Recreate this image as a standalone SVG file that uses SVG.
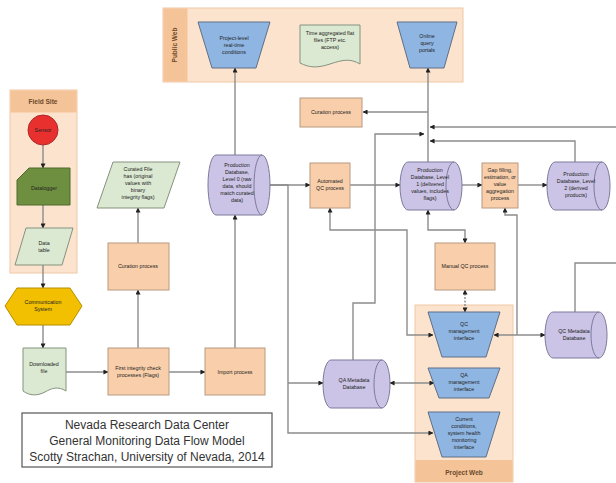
<svg xmlns="http://www.w3.org/2000/svg" width="616" height="483" viewBox="0 0 616 483">
<defs>
<style>
.lane{fill:#fce3cd;stroke:#f0c8a4;stroke-width:1}
.head{fill:#f5c398;stroke:none}
.proc{fill:#f9cfab;stroke:#b79a80;stroke-width:1}
.db{fill:#cbc4e6;stroke:#7d7a9a;stroke-width:1}
.dbl{fill:none;stroke:#7d7a9a;stroke-width:1}
.trap{fill:#8fb6e3;stroke:#5f6f86;stroke-width:1}
.grn{fill:#dbe9d2;stroke:#85927f;stroke-width:1}
.c{fill:none;stroke:#8c8c8c;stroke-width:1.4}
.t{font-family:"Liberation Sans",Arial,sans-serif;font-size:5.3px;fill:#222;text-anchor:middle}
.lbl{font-family:"Liberation Sans",Arial,sans-serif;font-size:6.5px;fill:#6b4a2a;text-anchor:middle;font-weight:bold}
.title{font-family:"Liberation Sans",Arial,sans-serif;font-size:12px;fill:#333;text-anchor:middle}
</style>
<marker id="a" viewBox="0 0 6 6" refX="5.5" refY="3" markerWidth="5" markerHeight="5" markerUnits="userSpaceOnUse" orient="auto-start-reverse">
<path d="M0,0 L6,3 L0,6 Z" fill="#222"/>
</marker>
</defs>

<!-- swimlanes -->
<g id="lane-public-web">
<rect class="lane" x="163" y="8" width="300" height="74"/>
<rect class="head" x="163.5" y="8.5" width="24" height="73"/>
<text class="lbl" transform="translate(177 45) rotate(-90)">Public Web</text>
</g>
<g id="lane-field-site">
<rect class="lane" x="10" y="90" width="67" height="183"/>
<rect class="head" x="10.5" y="90.5" width="66" height="22"/>
<text class="lbl" x="43" y="104">Field Site</text>
</g>
<g id="lane-project-web">
<rect class="lane" x="415" y="305" width="98" height="177"/>
<rect class="head" x="415.5" y="460" width="97" height="22"/>
<text class="lbl" x="464" y="475">Project Web</text>
</g>

<!-- connectors -->
<g id="connectors">
<path class="c" d="M43 145 V168" marker-end="url(#a)"/>
<path class="c" d="M43 205 V228" marker-end="url(#a)"/>
<path class="c" d="M43 265 V288" marker-end="url(#a)"/>
<path class="c" d="M43 325 V348" marker-end="url(#a)"/>
<path class="c" d="M66 372 H108" marker-end="url(#a)"/>
<path class="c" d="M169 372 H205" marker-end="url(#a)"/>
<path class="c" d="M138 348 V290" marker-end="url(#a)"/>
<path class="c" d="M138 243 V208" marker-end="url(#a)"/>
<path class="c" d="M235 348 V215" marker-end="url(#a)"/>
<path class="c" d="M235 155 V68" marker-end="url(#a)"/>
<path class="c" d="M270 185 H310" marker-end="url(#a)"/>
<path class="c" d="M270 185 H288 V433 H433" marker-end="url(#a)"/>
<path class="c" d="M288 383 H323" marker-end="url(#a)"/>
<path class="c" d="M350 185 H400" marker-end="url(#a)"/>
<path class="c" d="M353 360 V303 H375 V134 H424" marker-end="url(#a)"/>
<path class="c" d="M428 162 V68" marker-end="url(#a)"/>
<path class="c" d="M428 112 H363" marker-end="url(#a)"/>
<path class="c" d="M616 127 H430" marker-end="url(#a)"/>
<path class="c" d="M575 162 V141 H430" marker-end="url(#a)"/>
<path class="c" d="M462 185 H482" marker-end="url(#a)"/>
<path class="c" d="M518 185 H547" marker-end="url(#a)"/>
<path class="c" d="M428 210 V230 H465 V243" marker-start="url(#a)" marker-end="url(#a)"/>
<path class="c" d="M465 290 V312" stroke-dasharray="2 1.5" marker-start="url(#a)" marker-end="url(#a)"/>
<path class="c" d="M330 208 V230 H407 V335 H433" marker-start="url(#a)" marker-end="url(#a)"/>
<path class="c" d="M494 335 H545" marker-start="url(#a)" marker-end="url(#a)"/>
<path class="c" d="M505 208 V215 H517 V335" marker-start="url(#a)"/>
<path class="c" d="M575 312 V263 H616"/>
<path class="c" d="M390 383 H434" marker-start="url(#a)" marker-end="url(#a)"/>
</g>

<!-- Public web nodes -->
<g id="project-level-realtime">
<polygon class="trap" points="198,22 270,22 256,68 212,68"/>
<text class="t" x="234" y="40">Project-level</text>
<text class="t" x="234" y="47">real-time</text>
<text class="t" x="234" y="54">conditions</text>
</g>
<g id="time-aggregated-files">
<path class="grn" d="M300 25 H360 V64 C350 58 342 60 330 64 C318 68 310 68 300 63 Z"/>
<text class="t" x="330" y="35">Time aggregated flat</text>
<text class="t" x="330" y="42">files (FTP etc.</text>
<text class="t" x="330" y="49">access)</text>
</g>
<g id="online-query-portals">
<polygon class="trap" points="397,22 457,22 444,68 410,68"/>
<text class="t" x="427" y="38">Online</text>
<text class="t" x="427" y="45">query</text>
<text class="t" x="427" y="52">portals</text>
</g>
<g id="curation-process-top">
<rect class="proc" x="300" y="98" width="62" height="29"/>
<text class="t" x="331" y="114">Curation process</text>
</g>

<!-- Field site nodes -->
<g id="sensor">
<circle cx="43" cy="130" r="15" fill="#e8302e" stroke="#a82a2a"/>
<text class="t" x="43" y="132">Sensor</text>
</g>
<g id="datalogger">
<polygon points="17,180 29,168 70,168 70,205 17,205" fill="#6e8f3f" stroke="#4d6a2c"/>
<text class="t" x="44" y="190" fill="#111">Datalogger</text>
</g>
<g id="data-table">
<polygon class="grn" points="26,228 73,228 62,265 15,265"/>
<text class="t" x="44" y="245">Data</text>
<text class="t" x="44" y="252">table</text>
</g>
<g id="communication-system">
<polygon points="5,306 17,288 70,288 82,306 70,325 17,325" fill="#f2c000" stroke="#b58e00"/>
<text class="t" x="43" y="304">Communication</text>
<text class="t" x="43" y="311">System</text>
</g>
<g id="downloaded-file">
<path class="grn" d="M23 348 H66 V391 C58 386 52 388 45 392 C37 396 30 396 23 391 Z"/>
<text class="t" x="44" y="366">Downloaded</text>
<text class="t" x="44" y="373">file</text>
</g>

<!-- Left process column -->
<g id="curated-file">
<polygon class="grn" points="113,162 180,162 164,208 97,208"/>
<text class="t" x="138" y="171">Curated File</text>
<text class="t" x="138" y="178">has (original</text>
<text class="t" x="138" y="185">values with</text>
<text class="t" x="138" y="192">binary</text>
<text class="t" x="138" y="199">integrity flags)</text>
</g>
<g id="curation-process-left">
<rect class="proc" x="108" y="243" width="61" height="47"/>
<text class="t" x="138" y="268">Curation process</text>
</g>
<g id="first-integrity-check">
<rect class="proc" x="108" y="348" width="61" height="47"/>
<text class="t" x="138" y="370">First integrity check</text>
<text class="t" x="138" y="377">processes (Flags)</text>
</g>
<g id="import-process">
<rect class="proc" x="205" y="348" width="60" height="47"/>
<text class="t" x="235" y="374">Import process</text>
</g>

<!-- Databases -->
<g id="production-db-level0">
<path class="db" d="M216 155 H262 A8 30 0 0 1 262 215 H216 A8 30 0 0 1 216 155 Z"/>
<path class="dbl" d="M262 155 A8 30 0 0 0 262 215"/>
<text class="t" x="237" y="167">Production</text>
<text class="t" x="237" y="174">Database,</text>
<text class="t" x="237" y="181">Level 0 (raw</text>
<text class="t" x="237" y="188">data, should</text>
<text class="t" x="237" y="195">match curated</text>
<text class="t" x="237" y="202">data)</text>
</g>
<g id="automated-qc">
<rect class="proc" x="310" y="163" width="40" height="45"/>
<text class="t" x="330" y="183">Automated</text>
<text class="t" x="330" y="190">QC process</text>
</g>
<g id="production-db-level1">
<path class="db" d="M408 162 H454 A8 24 0 0 1 454 210 H408 A8 24 0 0 1 408 162 Z"/>
<path class="dbl" d="M454 162 A8 24 0 0 0 454 210"/>
<text class="t" x="430" y="172">Production</text>
<text class="t" x="430" y="179">Database, Level</text>
<text class="t" x="430" y="186">1 (delivered</text>
<text class="t" x="430" y="193">values, includes</text>
<text class="t" x="430" y="200">flags)</text>
</g>
<g id="gap-filling">
<rect class="proc" x="482" y="163" width="36" height="45"/>
<text class="t" x="500" y="172">Gap filling,</text>
<text class="t" x="500" y="179">estimation, or</text>
<text class="t" x="500" y="186">value</text>
<text class="t" x="500" y="193">aggregation</text>
<text class="t" x="500" y="200">process</text>
</g>
<g id="production-db-level2">
<path class="db" d="M555 162 H602 A8 24 0 0 1 602 210 H555 A8 24 0 0 1 555 162 Z"/>
<path class="dbl" d="M602 162 A8 24 0 0 0 602 210"/>
<text class="t" x="576" y="176">Production</text>
<text class="t" x="576" y="183">Database, Level</text>
<text class="t" x="576" y="190">2 (derived</text>
<text class="t" x="576" y="197">products)</text>
</g>
<g id="manual-qc">
<rect class="proc" x="435" y="243" width="60" height="47"/>
<text class="t" x="465" y="268">Manual QC process</text>
</g>

<!-- Project web nodes -->
<g id="qc-management-interface">
<polygon class="trap" points="428,312 500,312 486,357 442,357"/>
<text class="t" x="464" y="326">QC</text>
<text class="t" x="464" y="333">management</text>
<text class="t" x="464" y="340">interface</text>
</g>
<g id="qa-management-interface">
<polygon class="trap" points="428,368 500,368 489,398 439,398"/>
<text class="t" x="464" y="377">QA</text>
<text class="t" x="464" y="384">management</text>
<text class="t" x="464" y="391">interface</text>
</g>
<g id="current-conditions-interface">
<polygon class="trap" points="428,412 500,412 486,457 442,457"/>
<text class="t" x="464" y="421">Current</text>
<text class="t" x="464" y="428">conditions,</text>
<text class="t" x="464" y="435">system health</text>
<text class="t" x="464" y="442">monitoring</text>
<text class="t" x="464" y="449">interface</text>
</g>
<g id="qa-metadata-db">
<path class="db" d="M331 360 H382 A8 24 0 0 1 382 408 H331 A8 24 0 0 1 331 360 Z"/>
<path class="dbl" d="M382 360 A8 24 0 0 0 382 408"/>
<text class="t" x="354" y="382">QA Metadata</text>
<text class="t" x="354" y="389">Database</text>
</g>
<g id="qc-metadata-db">
<path class="db" d="M553 312 H599 A8 23 0 0 1 599 358 H553 A8 23 0 0 1 553 312 Z"/>
<path class="dbl" d="M599 312 A8 23 0 0 0 599 358"/>
<text class="t" x="574" y="333">QC Metadata</text>
<text class="t" x="574" y="340">Database</text>
</g>

<!-- Title -->
<g id="title">
<rect x="22" y="413" width="250" height="54" fill="#fff" stroke="#555" stroke-width="1.2"/>
<text class="title" x="147" y="429">Nevada Research Data Center</text>
<text class="title" x="147" y="445">General Monitoring Data Flow Model</text>
<text class="title" x="147" y="461">Scotty Strachan, University of Nevada, 2014</text>
</g>
</svg>
